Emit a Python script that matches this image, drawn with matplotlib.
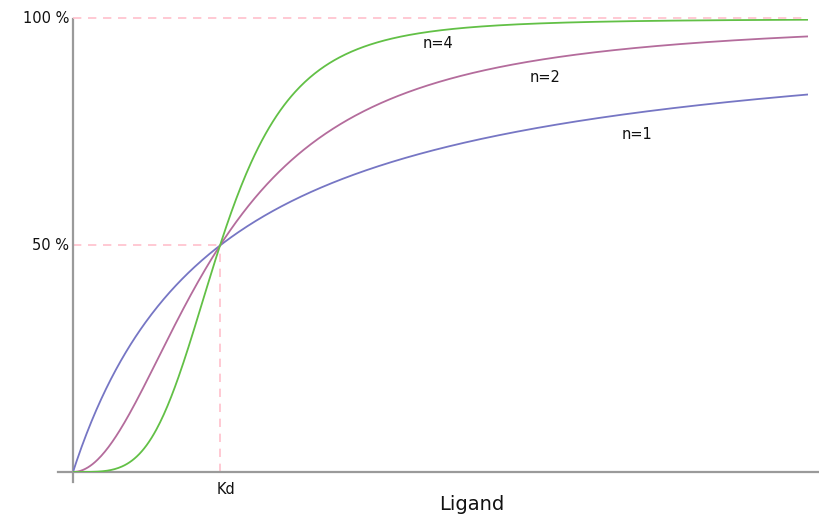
import numpy as np
import matplotlib
matplotlib.use("Agg")
import matplotlib.pyplot as plt

# Hill curves: fraction bound vs ligand, Kd = 1
hill_n = [1, 2, 4]
curve_labels = ["n=1", "n=2", "n=4"]
colors = ["#7676c4", "#b46c9c", "#62c046"]
label_pos = [(3.84, 0.744), (3.21, 0.87), (2.48, 0.945)]
kd = 1.0
x_max = 5.0
ytick_vals = [0.5, 1.0]
ytick_labels = ["50 %", "100 %"]

fig = plt.figure(figsize=(8.19, 5.18), dpi=100)
ax = fig.add_axes([73 / 819, 46 / 518, 735 / 819, 453 / 518])
ax.set_xlim(0, x_max)
ax.set_ylim(0, 1)
for s in ax.spines.values():
    s.set_visible(False)
ax.set_xticks([])
ax.set_yticks([])

pink = "#ffc0cc"
ax.plot([0, x_max], [1.002, 1.002], "--", color=pink, lw=1.2, dashes=(5, 4), zorder=4, clip_on=False)
ax.plot([0, kd], [0.5, 0.5], "--", color=pink, lw=1.2, dashes=(5, 4), zorder=1)
ax.plot([kd, kd], [0, 0.5], "--", color=pink, lw=1.2, dashes=(5, 4), zorder=1)

x = np.linspace(0, x_max, 600)
for n, c in zip(hill_n, colors):
    y = x ** n / (kd ** n + x ** n)
    ax.plot(x, y, color=c, lw=1.3, zorder=3)

for lab, (lx, ly) in zip(curve_labels, label_pos):
    ax.text(lx, ly, lab, fontsize=10.5, ha="center", va="center", color="#111111")

# axis lines drawn by hand so they overshoot like the original
gray = "#9a9a9a"
ax.plot([-15 / 147, 1.2 * x_max], [0, 0], color=gray, lw=1.6, clip_on=False, zorder=2)
ax.plot([0, 0], [-10 / 453, 1.0], color=gray, lw=1.6, clip_on=False, zorder=2)

for v, lab in zip(ytick_vals, ytick_labels):
    ax.text(-4 / 147, v, lab, fontsize=10.5, ha="right", va="center", color="#111111")
ax.text(kd + 6 / 147, -18 / 453, "Kd", fontsize=10.5, ha="center", va="center", color="#111111")
ax.text((472 - 73) / 147, -32 / 453, "Ligand", fontsize=14, ha="center", va="center", color="#111111")

fig.savefig("out.png", dpi=100)
